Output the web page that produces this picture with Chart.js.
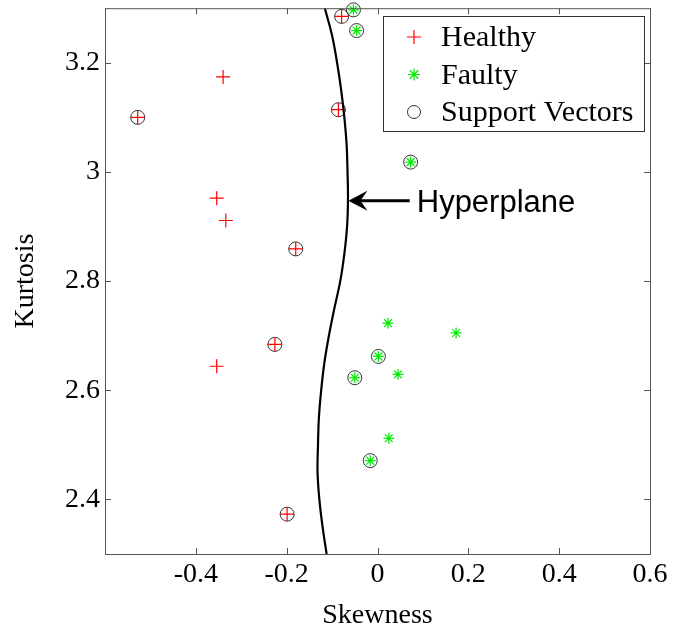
<!DOCTYPE html>
<html>
<head>
<meta charset="utf-8">
<script src="https://cdn.jsdelivr.net/npm/chart.js"></script>
<style>
  html, body { margin: 0; padding: 0; background: #fff; }
  #wrap { width: 683px; height: 629px; }
</style>
</head>
<body>
<div id="wrap"><canvas id="svmChart" width="683" height="629"></canvas></div>
<script>
// Valores
const healthyX = [-0.340, -0.528, -0.086, -0.079, -0.354, -0.334, -0.180, -0.354, -0.226, -0.199];
const healthyY = [3.174, 3.100, 3.114, 3.285, 2.952, 2.911, 2.859, 2.644, 2.684, 2.373];
const faultyX = [-0.053, -0.046, 0.073, 0.023, 0.173, 0.002, 0.045, -0.050, 0.025, -0.016];
const faultyY = [3.297, 3.259, 3.018, 2.723, 2.705, 2.662, 2.629, 2.623, 2.512, 2.471];
const supportX = [-0.528, -0.086, -0.079, -0.180, -0.226, -0.199, -0.053, -0.046, 0.073, 0.002, -0.050, -0.016];
const supportY = [3.100, 3.114, 3.285, 2.859, 2.684, 2.373, 3.297, 3.259, 3.018, 2.662, 2.623, 2.471];
const hyperX = [-0.116, -0.100, -0.089, -0.080, -0.073, -0.068, -0.066, -0.065, -0.067, -0.073, -0.082,
                -0.095, -0.107, -0.117, -0.124, -0.129, -0.131, -0.132, -0.128, -0.121, -0.112];
const hyperY = [3.30, 3.25, 3.20, 3.15, 3.10, 3.05, 3.00, 2.95, 2.90, 2.85, 2.80,
                2.75, 2.70, 2.65, 2.60, 2.55, 2.50, 2.45, 2.40, 2.35, 2.30];
const xTicks = [-0.4, -0.2, 0, 0.2, 0.4, 0.6];
const yTicks = [2.4, 2.6, 2.8, 3.0, 3.2];
const arrowTip = { x: -0.064, y: 2.947 };
const arrowTailX = 0.071;
const hyperLabel = 'Hyperplane';

const toPoints = (xs, ys) => xs.map((x, i) => ({ x: x, y: ys[i] }));
const serif = '"Liberation Serif", "Times New Roman", serif';
const fmt = v => String(Math.round(v * 10) / 10);

// marcadores para la leyenda
function drawMarker(ctx, style, x, y, r, color, lw) {
    ctx.save();
    ctx.strokeStyle = color;
    ctx.lineWidth = lw;
    ctx.beginPath();
    if (style === 'circle') {
        ctx.arc(x, y, r, 0, Math.PI * 2);
    } else {
        ctx.moveTo(x - r, y); ctx.lineTo(x + r, y);
        ctx.moveTo(x, y - r); ctx.lineTo(x, y + r);
        if (style === 'star') {
            const d = r * Math.SQRT1_2;
            ctx.moveTo(x - d, y - d); ctx.lineTo(x + d, y + d);
            ctx.moveTo(x - d, y + d); ctx.lineTo(x + d, y - d);
        }
    }
    ctx.stroke();
    ctx.restore();
}

const boxPlugin = {
    id: 'matlabBox',
    afterDatasetsDraw(chart) {
        const { ctx, chartArea: a, scales } = chart;
        ctx.save();
        ctx.strokeStyle = '#555';
        ctx.lineWidth = 1;
        ctx.strokeRect(a.left + 0.5, a.top + 0.5, a.right - a.left, a.bottom - a.top);
        ctx.beginPath();
        const tl = 6;
        xTicks.forEach(v => {
            const px = Math.round(scales.x.getPixelForValue(v)) + 0.5;
            ctx.moveTo(px, a.bottom); ctx.lineTo(px, a.bottom - tl);
            ctx.moveTo(px, a.top); ctx.lineTo(px, a.top + tl);
        });
        yTicks.forEach(v => {
            const py = Math.round(scales.y.getPixelForValue(v)) + 0.5;
            ctx.moveTo(a.left, py); ctx.lineTo(a.left + tl, py);
            ctx.moveTo(a.right, py); ctx.lineTo(a.right - tl, py);
        });
        ctx.stroke();

        // flecha del hiperplano
        const tx = scales.x.getPixelForValue(arrowTip.x);
        const ty = scales.y.getPixelForValue(arrowTip.y);
        const ex = scales.x.getPixelForValue(arrowTailX);
        ctx.strokeStyle = '#000';
        ctx.fillStyle = '#000';
        ctx.lineWidth = 3;
        ctx.beginPath();
        ctx.moveTo(tx + 8, ty); ctx.lineTo(ex, ty);
        ctx.stroke();
        ctx.beginPath();
        ctx.moveTo(tx, ty);
        ctx.lineTo(tx + 19, ty - 10);
        ctx.lineTo(tx + 12, ty);
        ctx.lineTo(tx + 19, ty + 10);
        ctx.closePath();
        ctx.fill();
        ctx.font = '31px "Liberation Sans", Arial, sans-serif';
        ctx.textBaseline = 'alphabetic';
        ctx.fillText(hyperLabel, ex + 7, ty + 11);

        // leyenda
        const lx = 383, ly = 16, lw = 261, lh = 115;
        ctx.fillStyle = '#fff';
        ctx.fillRect(lx, ly, lw, lh);
        ctx.strokeStyle = '#333';
        ctx.lineWidth = 1;
        ctx.strokeRect(lx + 0.5, ly + 0.5, lw, lh);
        const items = chart.data.datasets.filter(d => d.inLegend);
        ctx.font = '30px ' + serif;
        items.forEach((d, i) => {
            const cy = ly + 21 + i * 37.5;
            drawMarker(ctx, d.pointStyle, lx + 31, cy, d.legendR, d.borderColor, d.borderWidth);
            ctx.fillStyle = '#000';
            ctx.fillText(d.label, lx + 58, cy + 9);
        });
        ctx.restore();
    }
};

document.addEventListener('DOMContentLoaded', () => {
    const ctx = document.getElementById('svmChart').getContext('2d');
    new Chart(ctx, {
        type: 'scatter',
        data: {
            datasets: [
                {
                    label: 'Hyperplane',
                    data: toPoints(hyperX, hyperY),
                    showLine: true,
                    tension: 0.4,
                    borderColor: '#000',
                    borderWidth: 2.2,
                    pointRadius: 0,
                    fill: false
                },
                {
                    label: 'Healthy',
                    inLegend: true,
                    data: toPoints(healthyX, healthyY),
                    pointStyle: 'cross',
                    pointRadius: 7,
                    legendR: 7,
                    borderColor: '#ff0000',
                    borderWidth: 1.2,
                    clip: false
                },
                {
                    label: 'Faulty',
                    inLegend: true,
                    data: toPoints(faultyX, faultyY),
                    pointStyle: 'star',
                    pointRadius: 5.5,
                    legendR: 6,
                    borderColor: '#00ee00',
                    borderWidth: 1.2,
                    clip: false
                },
                {
                    label: 'Support Vectors',
                    inLegend: true,
                    data: toPoints(supportX, supportY),
                    pointStyle: 'circle',
                    pointRadius: 7,
                    legendR: 6.5,
                    borderColor: '#333',
                    backgroundColor: 'rgba(0,0,0,0)',
                    borderWidth: 1,
                    clip: false
                }
            ]
        },
        options: {
            responsive: false,
            animation: false,
            layout: { padding: { top: 7, right: 33, left: 0, bottom: 0 } },
            plugins: {
                legend: { display: false },
                tooltip: { enabled: false }
            },
            scales: {
                x: {
                    type: 'linear',
                    min: -0.6,
                    max: 0.6,
                    afterBuildTicks: s => { s.ticks = xTicks.map(v => ({ value: v })); },
                    afterFit: s => { s.height = 75; s.paddingLeft = 0; s.paddingRight = 0; },
                    grid: { display: false, drawTicks: false },
                    border: { display: false },
                    ticks: {
                        color: '#000',
                        font: { family: serif, size: 28 },
                        padding: 4,
                        maxRotation: 0,
                        callback: v => fmt(v)
                    },
                    title: {
                        display: true,
                        text: 'Skewness',
                        color: '#000',
                        font: { family: serif, size: 28 },
                        padding: { top: 0, bottom: -3 }
                    }
                },
                y: {
                    type: 'linear',
                    min: 2.3,
                    max: 3.3,
                    afterBuildTicks: s => { s.ticks = yTicks.map(v => ({ value: v })); },
                    afterFit: s => { s.width = 105; s.paddingTop = 0; s.paddingBottom = 0; },
                    grid: { display: false, drawTicks: false },
                    border: { display: false },
                    ticks: {
                        color: '#000',
                        font: { family: serif, size: 28 },
                        padding: 5,
                        callback: v => fmt(v)
                    },
                    title: {
                        display: true,
                        text: 'Kurtosis',
                        color: '#000',
                        font: { family: serif, size: 28 },
                        padding: { top: 9, bottom: 0 }
                    }
                }
            }
        },
        plugins: [boxPlugin]
    });
});
</script>
</body>
</html>
